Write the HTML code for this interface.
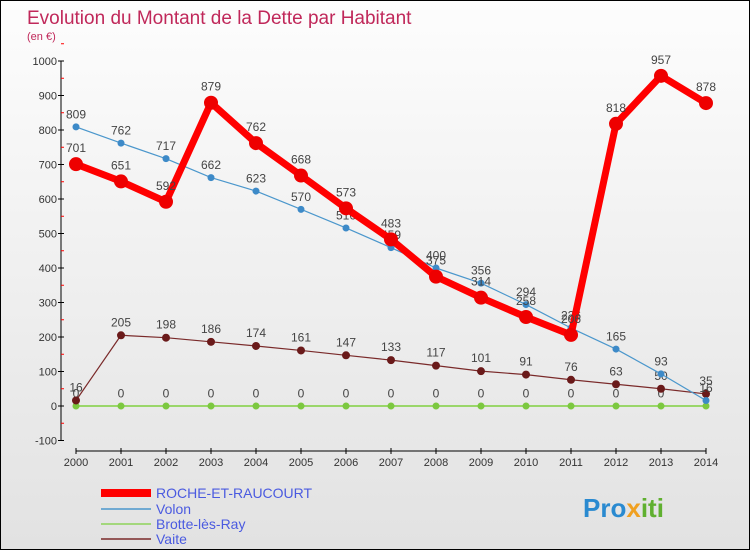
<!DOCTYPE html>
<html><head><meta charset="utf-8"><style>
body{margin:0}
#c{width:748px;height:548px;border:1px solid #000;background:linear-gradient(#fdfdfd,#e2e2e2);position:relative;font-family:"Liberation Sans",sans-serif}
svg text{font-family:"Liberation Sans",sans-serif}
</style></head><body>
<div id="c">
<svg id="s" width="748" height="548">
<text x="26" y="23" font-size="19" fill="#c0285a">Evolution du Montant de la Dette par Habitant</text>
<text x="26" y="39" font-size="11" fill="#c0285a">(en €)</text>
<line x1="60" y1="60" x2="60" y2="440" stroke="#000"/>
<g id="ax"></g><g id="series"></g>
<g font-size="14">
<line x1="100" y1="492" x2="150" y2="492" stroke="#ff0000" stroke-width="8"/>
<text x="155" y="497" fill="#4a5ae0">ROCHE-ET-RAUCOURT</text>
<line x1="100" y1="508" x2="150" y2="508" stroke="#4b97cc" stroke-width="1.5"/>
<text x="155" y="513" fill="#4a5ae0">Volon</text>
<line x1="100" y1="523" x2="150" y2="523" stroke="#8ed35a" stroke-width="1.5"/>
<text x="155" y="528" fill="#4a5ae0">Brotte-lès-Ray</text>
<line x1="100" y1="538" x2="150" y2="538" stroke="#7a2a2a" stroke-width="1.5"/>
<text x="155" y="543" fill="#4a5ae0">Vaite</text>
</g>
<text x="582" y="516" font-size="26" font-weight="bold" fill="#2a8ad0">Pro<tspan fill="#f0a020">x</tspan><tspan fill="#60b030">iti</tspan></text>
</svg></div>
<script>
const years=[2000,2001,2002,2003,2004,2005,2006,2007,2008,2009,2010,2011,2012,2013,2014];
const roche=[701,651,592,879,762,668,573,483,375,314,258,206,818,957,878];
const volon=[809,762,717,662,623,570,516,459,400,356,294,226,165,93,16];
const brotte=[0,0,0,0,0,0,0,0,0,0,0,0,0,0,0];
const vaite=[16,205,198,186,174,161,147,133,117,101,91,76,63,50,35];
const yTicks=[-100,0,100,200,300,400,500,600,700,800,900,1000];
const NS="http://www.w3.org/2000/svg";
const X=i=>75+i*45, Y=v=>405-v*0.345;
function mk(p,t,a){const e=document.createElementNS(NS,t);for(const k in a)e.setAttribute(k,a[k]);p.appendChild(e);return e;}
const ax=document.getElementById('ax');
yTicks.forEach(v=>{
 const l=mk(ax,'line',{x1:57,x2:63,y1:Y(v),y2:Y(v),stroke:'#000'});
 
 
 const m=mk(ax,'line',{x1:60,x2:63,y1:Y(v+50),y2:Y(v+50),stroke:'#f00'});
 
 
 const t=mk(ax,'text',{x:56,y:Y(v)+4,'font-size':11,'text-anchor':'end',fill:'#333'});
 t.textContent=v;
 
 
});
const xl=mk(ax,'line',{x1:X(0),x2:X(years.length-1),y1:450,y2:450,stroke:'#000'});


years.forEach((y,i)=>{
 const k=mk(ax,'line',{x1:X(i),x2:X(i),y1:447,y2:453,stroke:'#000'});
 
 
 const t=mk(ax,'text',{x:X(i),y:465,'font-size':11,'text-anchor':'middle',fill:'#333'});
 t.textContent=y;
 
 
});
const sg=document.getElementById('series');
function series(d,name,col,w,r,pc){
 const g=mk(sg,'g',{});
 
 
 const p=mk(g,'polyline',{points:d.map((v,i)=>X(i)+','+Y(v)).join(' '),fill:'none',stroke:col,'stroke-width':w,'stroke-linejoin':'round'});
 
 
 d.forEach((v,i)=>{
  const c=mk(g,'circle',{cx:X(i),cy:Y(v),r:r,fill:pc});
  
  
  const t=mk(g,'text',{x:X(i),y:Y(v)-(r+5),'font-size':12,'text-anchor':'middle',fill:'#444'});
  t.textContent=v;
  
  
 });
}
series(brotte,'brotte','#9ad66a',2,3.5,'#7cc840');
series(vaite,'vaite','#7a2a2a',1.2,4,'#6a1a1a');
series(volon,'volon','#4b97cc',1.2,3.5,'#3d8ac8');
series(roche,'roche','#ff0000',7,7,'#ee0000');
</script>
</body></html>
